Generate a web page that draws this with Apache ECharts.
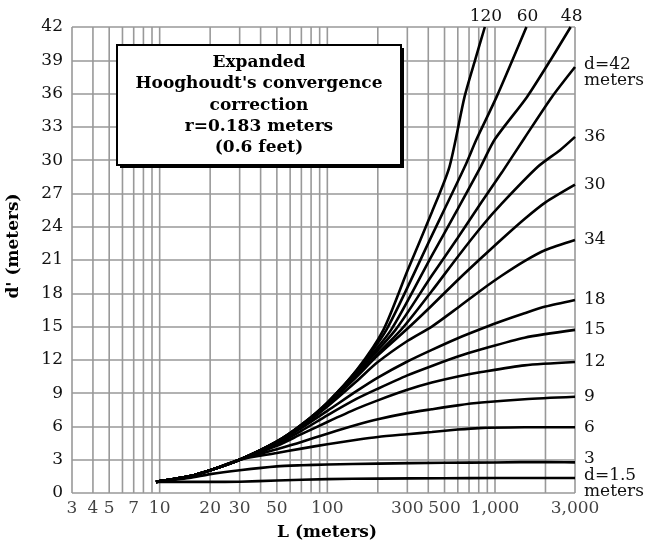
<!DOCTYPE html>
<html><head><meta charset="utf-8">
<script src="https://cdn.jsdelivr.net/npm/echarts@6/dist/echarts.min.js"></script>
<style>html,body{margin:0;padding:0;background:#fff}#c{width:659px;height:546px}</style>
</head><body><div id="c"></div>
<script>
// ---- data ----
const xGridValues = [3,4,5,6,7,8,9,10,20,30,40,50,60,70,80,90,100,200,300,400,500,600,700,800,900,1000,2000,3000];
const xTickValues = [3,4,5,7,10,20,30,50,100,300,500,1000,3000];
const xTickLabels = ['3','4','5','7','10','20','30','50','100','300','500','1,000','3,000'];
const yMin = 0, yMax = 42, yStep = 3;

const d1_5 = [[9.5,1.0],[20,1.0],[30,1.02],[50,1.12],[100,1.25],[200,1.3],[500,1.33],[1000,1.35],[3000,1.35]];
const d3 = [[9.5,1.0],[15,1.35],[20,1.7],[30,2.05],[50,2.4],[70,2.5],[100,2.57],[200,2.65],[500,2.73],[1000,2.75],[2000,2.8],[3000,2.76]];
const d6 = [[9.5,1.0],[15,1.5],[20,2.05],[30,3.0],[50,3.6],[70,4.0],[100,4.4],[150,4.8],[200,5.05],[300,5.3],[420,5.5],[600,5.72],[800,5.85],[1500,5.92],[3000,5.93]];
const d9 = [[9.5,1.0],[15,1.5],[20,2.05],[30,3.0],[50,3.95],[70,4.6],[100,5.35],[150,6.15],[200,6.65],[300,7.2],[420,7.55],[600,7.9],[830,8.15],[1500,8.45],[3000,8.67]];
const d12 = [[9.5,1.0],[15,1.5],[20,2.05],[30,3.0],[50,4.25],[70,5.3],[100,6.4],[150,7.6],[200,8.35],[300,9.3],[420,9.95],[600,10.5],[830,10.9],[1500,11.5],[3000,11.8]];
const d15 = [[9.5,1.0],[15,1.5],[20,2.05],[30,3.0],[50,4.4],[70,5.6],[100,7.0],[150,8.5],[200,9.4],[300,10.6],[420,11.45],[600,12.3],[830,12.95],[1500,14.0],[3000,14.7]];
const d18 = [[9.5,1.0],[15,1.5],[20,2.05],[30,3.0],[50,4.5],[70,5.85],[100,7.4],[150,9.2],[200,10.4],[300,11.85],[420,12.9],[600,13.95],[830,14.8],[1100,15.5],[1500,16.2],[2000,16.8],[3000,17.4]];
const d34 = [[9.5,1.0],[15,1.5],[20,2.05],[30,3.0],[50,4.55],[70,5.95],[100,7.8],[150,10.1],[200,11.8],[300,13.7],[420,15.0],[600,16.7],[830,18.3],[1100,19.6],[1500,20.9],[2000,21.9],[3000,22.8]];
const d30 = [[9.5,1.0],[15,1.5],[20,2.05],[30,3.0],[50,4.6],[70,6.0],[100,7.9],[150,10.5],[200,12.4],[300,14.8],[420,16.9],[600,19.2],[830,21.2],[1100,22.9],[1500,24.7],[2000,26.2],[3000,27.8]];
const d36 = [[9.5,1.0],[15,1.5],[20,2.05],[30,3.0],[50,4.6],[70,6.05],[100,8.0],[150,10.7],[275,14.7],[420,18.2],[600,21.3],[830,24.0],[1100,26.1],[1800,29.4],[2440,30.9],[3000,32.1]];
const d42 = [[9.5,1.0],[15,1.5],[20,2.05],[30,3.0],[50,4.6],[70,6.1],[100,8.05],[150,10.85],[255,14.7],[420,19.6],[600,23.0],[830,26.2],[1100,28.9],[1500,32.0],[2185,35.7],[3000,38.4]];
const d48 = [[9.5,1.0],[15,1.5],[20,2.05],[30,3.0],[50,4.62],[70,6.12],[100,8.1],[150,10.95],[240,14.7],[420,21.4],[600,25.6],[821,29.4],[1000,31.9],[1552,35.7],[2200,39.3],[2826,42]];
const d60 = [[9.5,1.0],[15,1.5],[20,2.05],[30,3.0],[50,4.65],[70,6.15],[100,8.15],[150,11.05],[225,14.7],[420,23.2],[660,29.4],[777,31.9],[1022,35.7],[1540,42]];
const d120 = [[9.5,1.0],[15,1.5],[20,2.05],[30,3.0],[50,4.65],[70,6.15],[100,8.15],[150,11.1],[216,14.7],[300,20.0],[420,25.3],[535,29.4],[658,35.7],[760,39.0],[870,42]];

const curveData = [d1_5, d3, d6, d9, d12, d15, d18, d34, d30, d36, d42, d48, d60, d120];
const curveLabels = ['d=1.5\nmeters','3','6','9','12','15','18','34','30','36','d=42\nmeters','48','60','120'];
const titleLines = ['Expanded', "Hooghoudt's convergence", 'correction', 'r=0.183 meters', '(0.6 feet)'];
const xTitle = 'L (meters)';
const yTitle = "d' (meters)";

// ---- chart ----
const FONT = 'DejaVu Serif';
const GRID_COLOR = '#999999';
const chart = echarts.init(document.getElementById('c'), null, {renderer: 'canvas'});

const gridSeries = {
  type: 'custom', name: 'xgrid', z: 1, silent: true, clip: false,
  data: xGridValues.map(v => [v, yMin, yMax]),
  encode: {x: 0, y: [1, 2]},
  renderItem: function (params, api) {
    const p0 = api.coord([api.value(0), api.value(1)]);
    const p1 = api.coord([api.value(0), api.value(2)]);
    return {
      type: 'line',
      shape: {x1: p0[0], y1: p0[1], x2: p1[0], y2: p1[1]},
      style: {stroke: GRID_COLOR, lineWidth: 1.6}
    };
  }
};

const curveSeries = curveData.map((data, i) => {
  const lab = curveLabels[i];
  const top = (lab === '120' || lab === '60' || lab === '48');
  const multi = lab.indexOf('\n') >= 0;
  return {
    type: 'line', name: lab, data: data, smooth: 0.25,
    symbol: 'none', z: 5, silent: true, clip: true,
    lineStyle: {color: '#000', width: 2.6},
    endLabel: top ? {
      show: true, formatter: lab, fontFamily: FONT, fontSize: 17, color: '#111',
      align: 'center', verticalAlign: 'bottom', distance: 0, offset: [1, -2]
    } : {
      show: true, formatter: lab, fontFamily: FONT, fontSize: 17, color: '#111',
      lineHeight: 16, align: 'left', verticalAlign: multi ? 'top' : 'middle', distance: 9,
      offset: multi ? [0, -10] : (lab === '3' ? [0, -4] : [0, 0])
    }
  };
});

const option = {
  animation: false,
  grid: {left: 72, right: 84, top: 27, bottom: 53},
  xAxis: {
    type: 'log', logBase: 10, min: 3, max: 3000,
    axisLine: {show: false}, axisTick: {show: false}, axisLabel: {show: false},
    splitLine: {show: false}, minorSplitLine: {show: false}
  },
  yAxis: {
    type: 'value', min: yMin, max: yMax, interval: yStep,
    axisLine: {show: false},
    axisTick: {show: false},
    axisLabel: {fontFamily: FONT, fontSize: 17, color: '#111', margin: 9},
    splitLine: {show: true, lineStyle: {color: GRID_COLOR, width: 1.5}}
  },
  series: [
    gridSeries,
    {
      type: 'scatter', name: 'xticks', z: 6, silent: true,
      data: xTickValues.map((v, i) => ({value: [v, yMin], name: xTickLabels[i]})),
      symbolSize: 0, clip: false,
      label: {show: true, position: 'bottom', distance: 7, formatter: p => p.name,
        fontFamily: FONT, fontSize: 17, color: '#111'}
    },
    ...curveSeries
  ],
  graphic: [
    {type: 'rect', shape: {x: 120, y: 48, width: 284, height: 120}, style: {fill: '#000'}, z: 20},
    {type: 'rect', shape: {x: 117, y: 45, width: 284, height: 120}, style: {fill: '#fff', stroke: '#000', lineWidth: 2}, z: 21},
    {type: 'text', x: 259, y: 52, z: 22,
      style: {text: titleLines.join('\n'), fontFamily: FONT, fontWeight: 'bold', fontSize: 17,
        lineHeight: 21.3, fill: '#000', align: 'center', verticalAlign: 'top'}},
    {type: 'text', x: 327, y: 533, z: 22,
      style: {text: xTitle, fontFamily: FONT, fontWeight: 'bold', fontSize: 17, fill: '#000',
        align: 'center', verticalAlign: 'middle'}},
    {type: 'text', x: 14, y: 246, rotation: Math.PI / 2, z: 22,
      style: {text: yTitle, fontFamily: FONT, fontWeight: 'bold', fontSize: 17, fill: '#000',
        align: 'center', verticalAlign: 'middle'}}
  ]
};
chart.setOption(option);
</script></body></html>
